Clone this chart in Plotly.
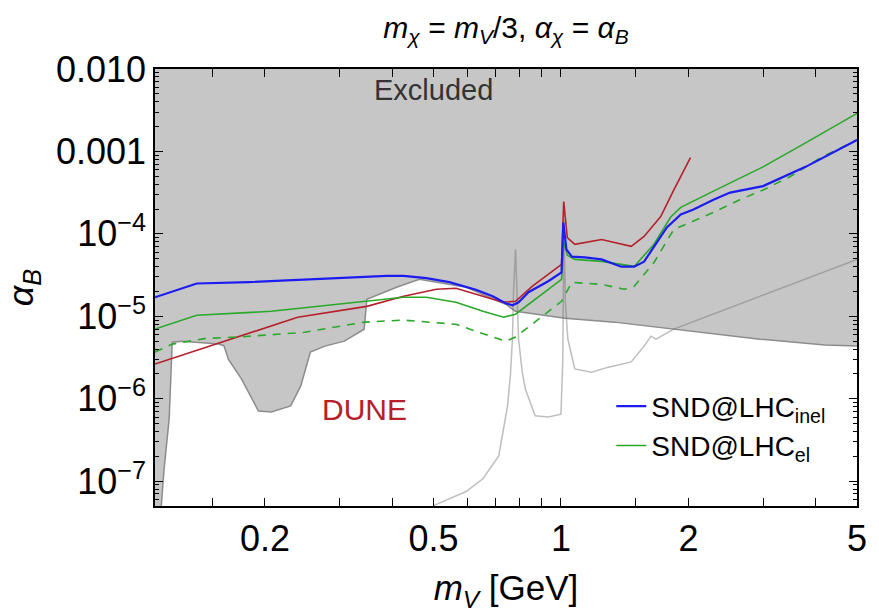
import numpy as np
import plotly.graph_objects as go

# ---------------- data ----------------
# SND@LHC inelastic (blue)
mv_inel = [0.110, 0.138, 0.183, 0.248, 0.313, 0.388, 0.425, 0.481, 0.545, 0.630, 0.690,
           0.740, 0.768, 0.794, 0.838, 0.933, 1.003, 1.013, 1.030, 1.061, 1.138, 1.247,
           1.388, 1.489, 1.571, 1.658, 1.778, 1.918, 2.055, 2.291, 2.508, 3.000, 3.780, 5.000]
alpha_inel = [1.7e-5, 2.5e-5, 2.6e-5, 2.8e-5, 2.95e-5, 3.1e-5, 3.1e-5, 2.9e-5, 2.6e-5, 2.1e-5, 1.75e-5,
              1.44e-5, 1.36e-5, 1.48e-5, 1.96e-5, 2.66e-5, 3.4e-5, 1.37e-4, 6.5e-5, 5.3e-5, 5.2e-5, 4.9e-5,
              4.0e-5, 4.0e-5, 4.6e-5, 7.0e-5, 1.2e-4, 1.72e-4, 1.97e-4, 2.6e-4, 3.17e-4, 3.8e-4, 6.5e-4, 1.38e-3]

# SND@LHC elastic (green, solid)
mv_el = [0.110, 0.138, 0.207, 0.297, 0.348, 0.425, 0.481, 0.565, 0.654, 0.732, 0.781, 0.855,
         1.003, 1.015, 1.035, 1.078, 1.247, 1.489, 1.658, 1.816, 1.918, 2.291, 3.000, 3.780, 5.000]
alpha_el = [7.0e-6, 1.03e-5, 1.15e-5, 1.4e-5, 1.52e-5, 1.7e-5, 1.7e-5, 1.48e-5, 1.15e-5, 9.75e-6, 1.06e-5, 1.52e-5,
            2.8e-5, 8.0e-5, 5.5e-5, 4.9e-5, 4.64e-5, 4.03e-5, 7.5e-5, 1.6e-4, 2.1e-4, 3.3e-4, 6.5e-4, 1.27e-3, 2.9e-3]

# SND@LHC elastic, alternative (green, dashed)
mv_el_dash = [0.110, 0.121, 0.145, 0.173, 0.248, 0.343, 0.425, 0.565, 0.690, 0.740, 0.781, 0.900,
              1.003, 1.061, 1.247, 1.411, 1.489, 1.658, 1.846, 2.291, 2.645, 3.000, 3.463, 4.137, 5.000]
alpha_el_dash = [3.7e-6, 4.6e-6, 5.4e-6, 5.6e-6, 6.4e-6, 8.5e-6, 9.0e-6, 8.0e-6, 5.6e-6, 5.0e-6, 5.6e-6, 9.75e-6,
                 1.52e-5, 2.58e-5, 2.44e-5, 2.13e-5, 2.31e-5, 4.5e-5, 1.13e-4, 1.82e-4, 2.6e-4, 3.4e-4, 4.9e-4, 8.6e-4, 1.38e-3]

# DUNE (red)
mv_dune = [0.110, 0.158, 0.239, 0.348, 0.425, 0.508, 0.565, 0.654, 0.728, 0.781, 0.855, 1.003,
           1.015, 1.035, 1.078, 1.247, 1.465, 1.571, 1.720, 1.846, 2.022]
alpha_dune = [2.64e-6, 4.86e-6, 9.75e-6, 1.32e-5, 1.75e-5, 2.13e-5, 2.19e-5, 1.75e-5, 1.48e-5, 1.52e-5, 2.31e-5, 4.26e-5,
              2.47e-4, 9.0e-5, 7.45e-5, 8.55e-5, 7.05e-5, 9.3e-5, 1.62e-4, 3.4e-4, 8.4e-4]

# Lower edge of the excluded (shaded) region
mv_excl = [0.1138, 0.1156, 0.1188, 0.1200, 0.1208, 0.1274, 0.1556, 0.1600, 0.1640, 0.1760, 0.1930,
           0.2070, 0.2300, 0.2430, 0.2560, 0.2770, 0.3080, 0.3430, 0.3480, 0.4090, 0.4630, 0.5970,
           0.7400, 0.7810, 1.0220, 1.3370, 1.8760, 2.9500, 4.2000, 5.0000]
alpha_excl = [5.0e-8, 1.42e-7, 5.7e-7, 2.3e-6, 4.86e-6, 5.0e-6, 4.6e-6, 4.4e-6, 3.0e-6, 1.74e-6, 7.1e-7,
              6.9e-7, 8.2e-7, 1.43e-6, 3.68e-6, 4.35e-6, 5.0e-6, 6.98e-6, 1.61e-5, 2.25e-5, 2.81e-5, 2.25e-5,
              1.4e-5, 1.15e-5, 9.5e-6, 8.5e-6, 6.98e-6, 5.28e-6, 4.48e-6, 4.35e-6]

# Light grey curve
mv_light = [0.500, 0.597, 0.654, 0.713, 0.748, 0.760, 0.768, 0.773, 0.781, 0.788, 0.794, 0.810,
            0.824, 0.869, 0.933, 1.000, 1.010, 1.016, 1.024, 1.038, 1.078, 1.180, 1.288, 1.465,
            1.571, 1.632, 1.676, 1.846, 2.950, 5.000]
alpha_light = [5.06e-8, 7.5e-8, 1.07e-7, 2.03e-7, 8.2e-7, 2.0e-6, 5.3e-6, 2.1e-5, 6.5e-5, 2.1e-5, 5.3e-6, 2.1e-6,
               1.31e-6, 6.2e-7, 6.0e-7, 6.5e-7, 3.0e-6, 1.5e-4, 1.5e-5, 5.3e-6, 2.3e-6, 2.1e-6, 2.4e-6, 2.8e-6,
               4.35e-6, 5.74e-6, 5.3e-6, 7.0e-6, 1.75e-5, 4.9e-5]

x_min, x_max = 0.11, 5.0
y_min, y_max = 5e-8, 1e-2

x_ticks = [0.15, 0.2, 0.3, 0.4, 0.5, 0.6, 0.7, 0.8, 0.9, 1, 1.5, 2, 3, 4, 5]
x_ticktext = ["", "0.2", "", "", "0.5", "", "", "", "", "1", "", "2", "", "", "5"]
y_ticks = [1e-7, 1e-6, 1e-5, 1e-4, 1e-3, 1e-2]
y_ticktext = ["10<sup>−7</sup>", "10<sup>−6</sup>", "10<sup>−5</sup>", "10<sup>−4</sup>", "0.001", "0.010"]

# ---------------- figure ----------------
FONT = "Liberation Sans, Arial, sans-serif"
fig = go.Figure()

# excluded region polygon
poly_x = [x_min] + mv_excl + [x_max, x_min, x_min]
poly_y = [y_min] + alpha_excl + [y_max, y_max, y_min]
fig.add_trace(go.Scatter(x=poly_x, y=poly_y, fill="toself", fillcolor="#c6c6c6",
                         line=dict(width=0), mode="lines", showlegend=False, hoverinfo="skip"))
fig.add_trace(go.Scatter(x=mv_excl, y=alpha_excl, mode="lines",
                         line=dict(color="#8c8c8c", width=1.5), showlegend=False))

fig.add_trace(go.Scatter(x=mv_light, y=alpha_light, mode="lines",
                         line=dict(color="rgba(110,110,110,0.45)", width=1.5), showlegend=False))

fig.add_trace(go.Scatter(x=mv_dune, y=alpha_dune, mode="lines",
                         line=dict(color="#b5202a", width=1.6), showlegend=False))
fig.add_trace(go.Scatter(x=mv_el_dash, y=alpha_el_dash, mode="lines",
                         line=dict(color="#2aa82a", width=1.6, dash="8px,7px"), showlegend=False))
fig.add_trace(go.Scatter(x=mv_el, y=alpha_el, mode="lines", name="SND@LHC<sub>el</sub>",
                         line=dict(color="#2aa82a", width=1.6), showlegend=True, legendrank=2))
fig.add_trace(go.Scatter(x=mv_inel, y=alpha_inel, mode="lines", name="SND@LHC<sub>inel</sub>",
                         line=dict(color="#1c1cf0", width=2.2), showlegend=True, legendrank=1))

minor_y = [m * 10.0 ** e for e in range(-8, -2) for m in range(2, 10)]
minor_y = [v for v in minor_y if y_min <= v <= y_max]

fig.update_xaxes(type="log", range=[np.log10(x_min), np.log10(x_max)],
                 tickmode="array", tickvals=x_ticks, ticktext=x_ticktext,
                 ticks="inside", ticklen=8, tickwidth=1.2, tickcolor="black",
                 showline=True, linecolor="black", linewidth=1.5, mirror="ticks",
                 showgrid=False, zeroline=False,
                 tickfont=dict(family=FONT, size=36, color="black"),
                 title=dict(text="<i>m<sub>V</sub></i> [GeV]",
                            font=dict(family=FONT, size=35, color="black"), standoff=18))
fig.update_yaxes(type="log", range=[np.log10(y_min), np.log10(y_max)],
                 tickmode="array", tickvals=y_ticks, ticktext=y_ticktext,
                 ticks="inside", ticklen=8, tickwidth=1.2, tickcolor="black",
                 minor=dict(tickmode="array", tickvals=minor_y, ticks="inside",
                            ticklen=4, tickcolor="black", showgrid=False),
                 showline=True, linecolor="black", linewidth=1.5, mirror="ticks",
                 showgrid=False, zeroline=False,
                 tickfont=dict(family=FONT, size=36, color="black"),
                 title=dict(text="<i>α<sub>B</sub></i>",
                            font=dict(family=FONT, size=36, color="black"), standoff=12))

fig.add_annotation(x=np.log10(0.5), y=np.log10(5.6e-3), text="Excluded", showarrow=False,
                   font=dict(family=FONT, size=29, color="#333333"))
fig.add_annotation(x=np.log10(0.344), y=np.log10(7.5e-7), text="DUNE", showarrow=False,
                   font=dict(family=FONT, size=30, color="#b5202a"))

fig.update_layout(
    width=879, height=613,
    margin=dict(l=155, r=14, t=69, b=105),
    plot_bgcolor="white", paper_bgcolor="white",
    title=dict(text="<i>m<sub>χ</sub></i> = <i>m<sub>V</sub></i>/3, <i>α<sub>χ</sub></i> = <i>α<sub>B</sub></i>",
               x=0.5, xref="paper", xanchor="center", y=0.955, yref="container", yanchor="middle",
               font=dict(family=FONT, size=30, color="black")),
    legend=dict(x=0.65, y=0.285, xanchor="left", yanchor="top", bgcolor="rgba(0,0,0,0)",
                font=dict(family=FONT, size=28, color="black"), tracegroupgap=0),
    showlegend=True,
)

fig.write_html("out.html")
